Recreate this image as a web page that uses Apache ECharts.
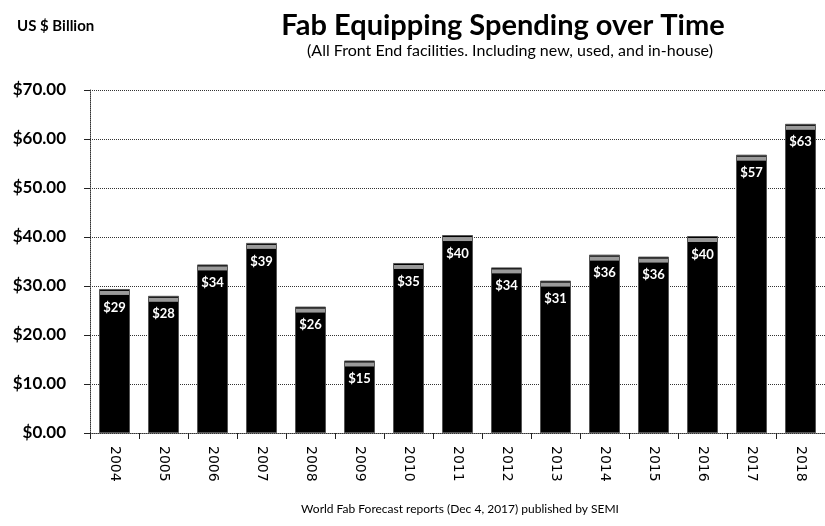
<!DOCTYPE html>
<html><head><meta charset="utf-8">
<script src="https://cdn.jsdelivr.net/npm/echarts@6/dist/echarts.min.js"></script>
<style>html,body{margin:0;padding:0;background:#fff}#c{width:825px;height:526px}</style>
</head><body><div id="c"></div>
<script>
var years = ['2004','2005','2006','2007','2008','2009','2010','2011','2012','2013','2014','2015','2016','2017','2018'];
var spending = [29.4, 28.0, 34.4, 38.8, 25.8, 14.8, 34.7, 40.4, 33.8, 31.1, 36.4, 36.0, 40.2, 56.8, 63.1];
var yTicks = [0, 10, 20, 30, 40, 50, 60, 70];

var chart = echarts.init(document.getElementById('c'), null, {renderer: 'canvas'});
var calibri = 'Lato, "Open Sans", sans-serif';
chart.setOption({
  backgroundColor: '#fff',
  animation: false,
  title: [
    {text: 'Fab Equipping Spending over Time', left: 498, top: 6, textAlign: 'center',
     textStyle: {fontFamily: calibri, fontWeight: 'bold', fontSize: 29, color: '#000'}},
    {text: '(All Front End facilities. Including new, used, and in-house)', left: 505, top: 38, textAlign: 'center',
     textStyle: {fontFamily: calibri, fontWeight: 'normal', fontSize: 16, color: '#000'}},
    {text: 'US $ Billion', left: 12, top: 14,
     textStyle: {fontFamily: calibri, fontWeight: 'bold', fontSize: 15, color: '#000'}},
    {text: 'World Fab Forecast reports (Dec 4, 2017) published by SEMI', left: 455, top: 498, textAlign: 'center',
     textStyle: {fontFamily: calibri, fontWeight: 'normal', fontSize: 12, color: '#000'}}
  ],
  grid: {left: 90, top: 90, width: 741, height: 343, containLabel: false},
  xAxis: {
    type: 'category', data: years,
    axisLine: {lineStyle: {color: '#333', width: 1, type: 'dotted'}},
    axisTick: {show: true, length: 6, lineStyle: {color: '#222'}},
    axisLabel: {rotate: -90, margin: 13, fontFamily: 'DejaVu Sans', fontSize: 14, color: '#000'},
    splitLine: {show: false}
  },
  yAxis: {
    type: 'value', min: 0, max: 70, interval: 10,
    axisLine: {show: true, lineStyle: {color: '#333', width: 1, type: 'dotted'}},
    axisTick: {show: true, length: 6, lineStyle: {color: '#222'}},
    axisLabel: {margin: 24, fontFamily: calibri, fontWeight: 'bold', fontSize: 17, color: '#000',
      formatter: function (v) { return '$' + v.toFixed(2); }},
    splitLine: {show: true, lineStyle: {color: '#333', width: 1, type: 'dotted'}}
  },
  series: [
    {
      type: 'bar', data: spending, barWidth: 31,
      itemStyle: {color: '#000', borderColor: '#555', borderWidth: 1},
      label: {show: true, position: 'insideTop', offset: [0, 7], color: '#fff', fontFamily: calibri,
        fontWeight: 'bold', fontSize: 13, formatter: function (p) { return '$' + Math.round(p.value); }},
      z: 2
    },
    {
      type: 'pictorialBar', data: spending, symbol: 'rect', symbolPosition: 'end',
      symbolSize: [29, 4], symbolOffset: [0, '50%'],
      itemStyle: {color: '#9a9a9a'}, z: 3, silent: true
    }
  ]
});
</script></body></html>
